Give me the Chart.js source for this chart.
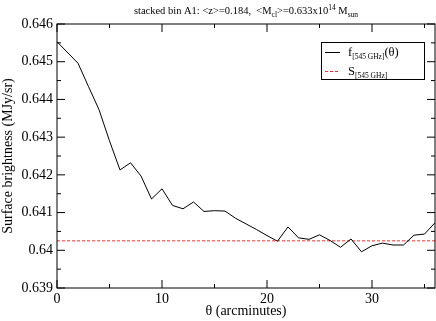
<!DOCTYPE html>
<html>
<head>
<meta charset="utf-8">
<script src="https://cdn.jsdelivr.net/npm/chart.js@4"></script>
<style>
  html, body { margin: 0; padding: 0; background: #fff; }
  canvas { display: block; }
</style>
</head>
<body>
<canvas id="sbChart" width="436" height="321"></canvas>
<script>
// theta (arcmin) and the stacked 545 GHz profile
const thetaValues = [0, 2, 3, 4, 5, 6, 7, 8, 9, 10, 11, 12, 13, 14, 15, 16, 17, 18,
    19, 20, 21, 22, 23, 24, 25, 26, 27, 28, 29, 30, 31, 32, 33, 34, 35, 36];
const brightness = [0.64553, 0.64496, 0.64434, 0.64373, 0.6429, 0.64213, 0.64232, 0.64197,
    0.64136, 0.64163, 0.64119, 0.6411, 0.64128, 0.64103, 0.64105, 0.64104, 0.64085, 0.6407,
    0.64055, 0.64039, 0.64024, 0.64062, 0.64033, 0.64029, 0.64041, 0.64026, 0.64008, 0.6403,
    0.63996, 0.64012, 0.64019, 0.64014, 0.64014, 0.6404, 0.64043, 0.64073];
const sLevel = 0.64025;

const xTicks = [0, 10, 20, 30];
const xMinorTicks = [5, 15, 25, 35];
const yTicks = [0.639, 0.640, 0.641, 0.642, 0.643, 0.644, 0.645, 0.646];
const yTickLabels = ["0.639", "0.64", "0.641", "0.642", "0.643", "0.644", "0.645", "0.646"];
const yMinorTicks = [0.6395, 0.6405, 0.6415, 0.6425, 0.6435, 0.6445, 0.6455];

const SERIF = "'Liberation Serif', 'DejaVu Serif', serif";
const RED = "#ff2a2a";

// draws a run of text pieces with sub/superscripts, returns the end x
function drawRich(ctx, parts, x, y, measureOnly) {
    let cx = x;
    parts.forEach(p => {
        ctx.font = p.size + "px " + SERIF;
        if (!measureOnly) ctx.fillText(p.t, cx, y + (p.dy || 0));
        cx += ctx.measureText(p.t).width;
    });
    return cx;
}

const framePlugin = {
    id: "frame",
    afterDatasetsDraw(chart) {
        const ctx = chart.ctx;
        const a = chart.chartArea;
        const xs = chart.scales.x, ys = chart.scales.y;
        ctx.save();
        ctx.strokeStyle = "#000";
        ctx.lineWidth = 1;
        ctx.strokeRect(a.left, a.top, a.right - a.left, a.bottom - a.top);
        ctx.beginPath();
        const tickX = (vals, len) => vals.forEach(v => {
            const px = xs.getPixelForValue(v);
            ctx.moveTo(px, a.bottom); ctx.lineTo(px, a.bottom - len);
            ctx.moveTo(px, a.top); ctx.lineTo(px, a.top + len);
        });
        const tickY = (vals, len) => vals.forEach(v => {
            const py = ys.getPixelForValue(v);
            ctx.moveTo(a.left, py); ctx.lineTo(a.left + len, py);
            ctx.moveTo(a.right, py); ctx.lineTo(a.right - len, py);
        });
        tickX(xTicks, 8); tickX(xMinorTicks, 4);
        tickY(yTicks, 8); tickY(yMinorTicks, 4);
        ctx.stroke();
        ctx.restore();
    },
    afterDraw(chart) {
        const ctx = chart.ctx;
        const a = chart.chartArea;
        ctx.save();
        ctx.fillStyle = "#000";
        ctx.textBaseline = "alphabetic";

        // title with sub/superscripts
        const title = [
            { t: "stacked bin A1: <z>=0.184,  <M", size: 10.5 },
            { t: "cl", size: 7.5, dy: 3 },
            { t: ">=0.633x10", size: 10.5 },
            { t: "14", size: 7.5, dy: -4 },
            { t: " M", size: 10.5 },
            { t: "sun", size: 7.5, dy: 3 }
        ];
        const w = drawRich(ctx, title, 0, 0, true);
        drawRich(ctx, title, (a.left + a.right) / 2 - w / 2, 14, false);

        // legend box
        ctx.lineWidth = 1;
        ctx.strokeStyle = "#000";
        ctx.strokeRect(321.5, 42.5, 103, 37);
        ctx.fillStyle = "#000";
        ctx.fillRect(325, 52, 15, 1);
        ctx.fillStyle = RED;
        for (let x = 325; x < 340; x += 5) ctx.fillRect(x, 71, 3, 1);
        ctx.fillStyle = "#000";
        drawRich(ctx, [
            { t: "f", size: 12.5 },
            { t: "[545 GHz]", size: 7.5, dy: 3 },
            { t: "(θ)", size: 12.5 }
        ], 348, 56, false);
        drawRich(ctx, [
            { t: "S", size: 12.5 },
            { t: "[545 GHz]", size: 7.5, dy: 3 }
        ], 348, 75, false);
        ctx.restore();
    }
};

const ctx = document.getElementById("sbChart").getContext("2d");
const chart = new Chart(ctx, {
    type: "line",
    data: {
        datasets: [{
            label: "f[545 GHz](θ)",
            data: thetaValues.map((t, i) => ({ x: t, y: brightness[i] })),
            borderColor: "#000",
            borderWidth: 1,
            pointRadius: 0,
            tension: 0,
            fill: false
        }, {
            label: "S[545 GHz]",
            data: [{ x: 0, y: sLevel }, { x: 36, y: sLevel }],
            borderColor: RED,
            borderWidth: 1,
            borderDash: [3, 2],
            pointRadius: 0,
            fill: false
        }]
    },
    options: {
        responsive: false,
        animation: false,
        devicePixelRatio: 1,
        layout: { padding: { top: 24, right: 1, left: 0, bottom: 0 } },
        plugins: {
            legend: { display: false },
            tooltip: { enabled: false }
        },
        scales: {
            x: {
                type: "linear",
                min: 0,
                max: 36,
                afterBuildTicks: s => { s.ticks = xTicks.map(v => ({ value: v })); },
                afterFit: s => { s.height = 33; },
                grid: { display: false, drawTicks: false },
                border: { display: false },
                ticks: {
                    color: "#000",
                    padding: 3,
                    maxRotation: 0,
                    font: { family: SERIF, size: 14 },
                    callback: v => String(v)
                },
                title: {
                    display: true,
                    text: "θ (arcminutes)",
                    color: "#000",
                    padding: { top: 0, bottom: 1 },
                    font: { family: SERIF, size: 14 }
                }
            },
            y: {
                type: "linear",
                min: 0.639,
                max: 0.646,
                afterBuildTicks: s => { s.ticks = yTicks.map(v => ({ value: v })); },
                afterFit: s => { s.width = 57; },
                grid: { display: false, drawTicks: false },
                border: { display: false },
                ticks: {
                    color: "#000",
                    padding: 4,
                    font: { family: SERIF, size: 14 },
                    callback: (v, i) => yTickLabels[i]
                },
                title: {
                    display: true,
                    text: "Surface brightness (MJy/sr)",
                    color: "#000",
                    padding: 0,
                    font: { family: SERIF, size: 14 }
                }
            }
        }
    },
    plugins: [framePlugin]
});
</script>
</body>
</html>
